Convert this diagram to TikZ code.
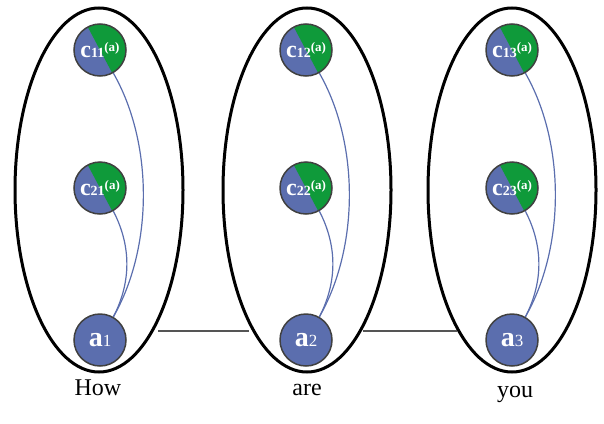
\documentclass[tikz,border=0pt]{standalone}
\usepackage{fontspec}
\setmainfont{Liberation Serif}
\usetikzlibrary{shapes.geometric}

\definecolor{tokblue}{HTML}{5B6EAE}
\definecolor{tokgreen}{HTML}{0F9A3A}
\definecolor{tokborder}{HTML}{404040}
\definecolor{linkgray}{HTML}{555555}

% token texts
\newcommand{\ctok}[1]{\makebox[0pt]{\bfseries\fontsize{24}{24}\selectfont c\fontsize{14}{14}\selectfont #1\raisebox{6pt}{\fontsize{13}{13}\selectfont (a)}}}
\newcommand{\atok}[1]{\makebox[0pt]{\bfseries\fontsize{28}{28}\selectfont a\mdseries\fontsize{17}{17}\selectfont #1}}

\begin{document}
\begin{tikzpicture}[x=1pt, y=-1pt,
  word/.style={ellipse, draw, line width=3pt, minimum width=168pt, minimum height=364pt, inner sep=0pt},
  tok/.style={circle, draw=tokborder, line width=1.5pt, fill=tokblue, minimum size=52pt, inner sep=0pt, text=white},
  ctokn/.style={tok, path picture={\fill[tokgreen] (path picture bounding box.center) ++(118:40pt) -- ++(-62:80pt) -- ++(28:40pt) -- ++(118:80pt) -- cycle;}},
  dep/.style={draw=tokblue, line width=1.2pt},
  wlink/.style={draw=linkgray, line width=1.5pt},
  lbl/.style={anchor=base, font=\fontsize{24}{24}\selectfont}]
\useasboundingbox (0,0) rectangle (604,423);
% words
\node[word] (e1) at (99,190) {};
\node[word] (e2) at (307,190) {};
\node[word] (e3) at (512,190) {};
% tokens
\node[ctokn] (c11) at (100,50) {\ctok{11}};
\node[ctokn] (c21) at (100,188) {\ctok{21}};
\node[tok] (a1) at (100,340) {\atok{1}};
\node[ctokn] (c12) at (306,50) {\ctok{12}};
\node[ctokn] (c22) at (306,188) {\ctok{22}};
\node[tok] (a2) at (306,340) {\atok{2}};
\node[ctokn] (c13) at (512,50) {\ctok{13}};
\node[ctokn] (c23) at (512,188) {\ctok{23}};
\node[tok] (a3) at (512,340) {\atok{3}};
% labels
\node[lbl] (w1) at (98,395) {How};
\node[lbl] (w2) at (307,395) {are};
\node[lbl] (w3) at (515,397) {you};
% links
\draw[dep] (c11.-60) .. controls +(40,70) and +(40,-70) .. (a1.60);
\draw[dep] (c21.-60) .. controls +(18,35) and +(18,-35) .. (a1.60);
\draw[dep] (c12.-60) .. controls +(40,70) and +(40,-70) .. (a2.60);
\draw[dep] (c22.-60) .. controls +(18,35) and +(18,-35) .. (a2.60);
\draw[dep] (c13.-60) .. controls +(40,70) and +(40,-70) .. (a3.60);
\draw[dep] (c23.-60) .. controls +(18,35) and +(18,-35) .. (a3.60);
\draw[wlink, shorten <=33pt, shorten >=32pt] (a1.20) -- (a2.160);
\draw[wlink, shorten <=32pt, shorten >=30pt] (a2.20) -- (a3.160);
\end{tikzpicture}
\end{document}
